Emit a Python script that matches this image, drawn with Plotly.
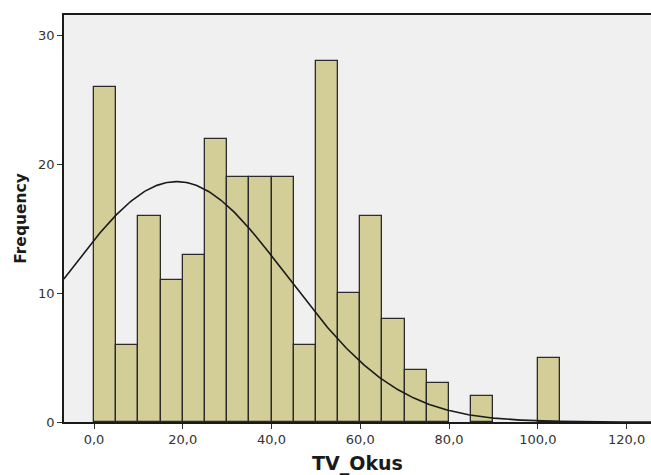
import numpy as np
import plotly.graph_objects as go

# Histogram bins (left edges, width 5) and frequencies
bin_starts = [0, 5, 10, 15, 20, 25, 30, 35, 40, 45, 50, 55, 60, 65, 70, 75, 80, 85, 90, 95, 100]
counts = [26, 6, 16, 11, 13, 22, 19, 19, 19, 6, 28, 10, 16, 8, 4, 3, 0, 2, 0, 0, 5]
bin_width = 5

# Normal curve parameters (as drawn by SPSS)
curve_mean = 18.6
curve_sd = 24.9
n_total = sum(counts)

x_tickvals = [0, 20, 40, 60, 80, 100, 120]
x_ticktext = ["0,0", "20,0", "40,0", "60,0", "80,0", "100,0", "120,0"]
y_tickvals = [0, 10, 20, 30]

bar_x = [s + bin_width / 2 for s, c in zip(bin_starts, counts) if c > 0]
bar_y = [c for c in counts if c > 0]

xs = np.linspace(-6.8, 126, 400)
ys = n_total * bin_width / (curve_sd * np.sqrt(2 * np.pi)) * np.exp(-0.5 * ((xs - curve_mean) / curve_sd) ** 2)

fig = go.Figure()
fig.add_trace(go.Bar(
    x=bar_x, y=bar_y, width=bin_width,
    marker=dict(color="#D3CE97", line=dict(color="#2b2b2b", width=1.3)),
    hoverinfo="x+y",
))
fig.add_trace(go.Scatter(
    x=xs, y=ys, mode="lines",
    line=dict(color="#1a1a1a", width=1.6),
    hoverinfo="skip",
))

font_family = "DejaVu Sans, Verdana, sans-serif"
fig.update_layout(
    width=651, height=475,
    margin=dict(l=64, r=0, t=15, b=53, autoexpand=False),
    paper_bgcolor="white",
    plot_bgcolor="#F0F0F0",
    showlegend=False,
    bargap=0,
    font=dict(family=font_family, size=13, color="#333333"),
    xaxis=dict(
        range=[-6.76, 125.5],
        tickvals=x_tickvals, ticktext=x_ticktext,
        ticks="outside", ticklen=5, tickcolor="#333333", tickwidth=1,
        showline=True, linecolor="#1a1a1a", linewidth=1.5, mirror=True,
        showgrid=False, zeroline=False, automargin=False,
        tickfont=dict(size=13, color="#333333"),
        title=dict(text="<b>TV_Okus</b>", font=dict(size=19, color="#1a1a1a"), standoff=11),
    ),
    yaxis=dict(
        range=[0, 31.6],
        tickvals=y_tickvals,
        ticks="outside", ticklen=5, tickcolor="#333333", tickwidth=1,
        showline=True, linecolor="#1a1a1a", linewidth=1.5,
        showgrid=False, zeroline=False, automargin=False,
        tickfont=dict(size=13, color="#333333"),
        title=dict(text="<b>Frequency</b>", font=dict(size=15.5, color="#1a1a1a"), standoff=8),
    ),
)

fig.write_html(
    "out.html",
    config={"displayModeBar": False},
    post_script="document.body.style.margin='0';document.body.style.overflow='hidden';",
)
